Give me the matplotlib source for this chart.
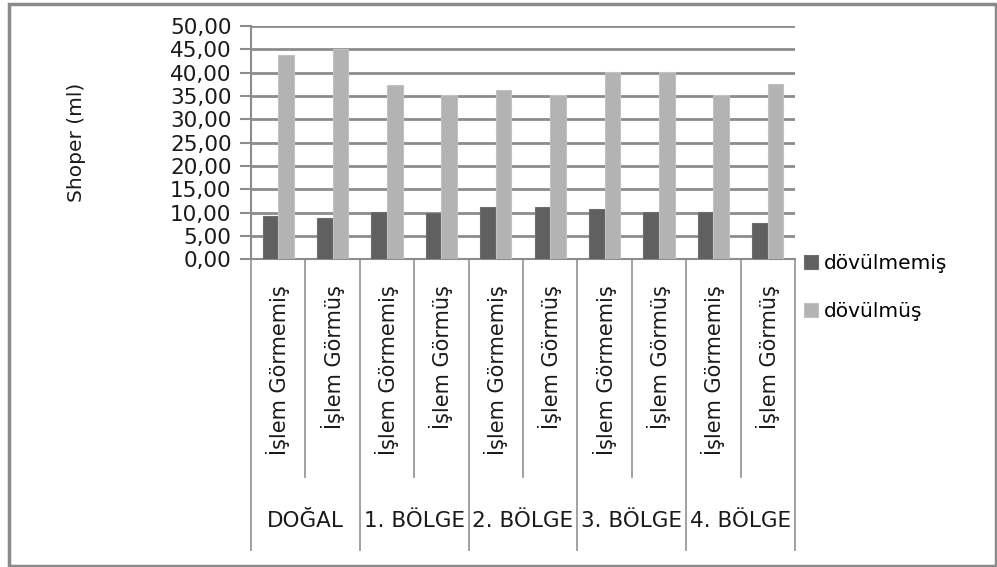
import numpy as np
import matplotlib.pyplot as plt
import matplotlib.transforms as mtransforms
from matplotlib.patches import Rectangle

# Veriler
bolgeler = ["DOĞAL", "1. BÖLGE", "2. BÖLGE", "3. BÖLGE", "4. BÖLGE"]
islemler = ["İşlem Görmemiş", "İşlem Görmüş"]
dovulmemis = [9.3, 8.9, 10.2, 9.85, 11.3, 11.3, 10.85, 10.2, 10.2, 7.85]
dovulmus = [43.8, 45.0, 37.4, 35.3, 36.3, 35.3, 40.1, 40.1, 35.3, 37.6]
y_ticks = np.arange(0, 50.01, 5)

plt.rcParams['font.family'] = ['DejaVu Sans']

fig = plt.figure(figsize=(9.97, 5.67), dpi=100)
W, H = 997, 567

# Grafik alanı (piksel -> oran)
x0, x1 = 251, 795
y_top, y_bot = 26, 259.3
ax = fig.add_axes([x0 / W, 1 - y_bot / H, (x1 - x0) / W, (y_bot - y_top) / H])

n = len(dovulmemis)
x = np.arange(n)
w = 1 / 3.5
ax.bar(x - w / 2, dovulmemis, width=w, color="#606060", edgecolor="#6e6e6e",
       linewidth=0.8, label="dövülmemiş", zorder=3)
ax.bar(x + w / 2, dovulmus, width=w, color="#b3b3b3", edgecolor="#c2c2c2",
       linewidth=0.8, label="dövülmüş", zorder=3)

ax.set_xlim(-0.5, n - 0.5)
ax.set_ylim(0, 50)
ax.set_yticks(y_ticks)
ax.set_yticklabels([f"{v:.2f}".replace(".", ",") for v in y_ticks], fontsize=15.5,
                   color="#1a1a1a")
ax.tick_params(axis="y", length=8, width=1.5, color="#8c8c8c", pad=6)
ax.set_xticks([])
ax.yaxis.grid(True, color="#8c8c8c", linewidth=2)
ax.set_axisbelow(True)
for s in ["top", "right"]:
    ax.spines[s].set_visible(False)
for s in ["left", "bottom"]:
    ax.spines[s].set_color("#8c8c8c")
    ax.spines[s].set_linewidth(1.5)

ax.set_ylabel("Shoper (ml)", fontsize=14.5, color="#1a1a1a", va="center")
ax.yaxis.set_label_coords((77 - x0) / (x1 - x0), 0.5)

# Çok seviyeli kategori ekseni
trans = mtransforms.blended_transform_factory(ax.transData, ax.transAxes)
px = y_bot - y_top
kisa = -(477 - y_bot) / px
uzun = -(550 - y_bot) / px
for b in range(n + 1):
    alt = uzun if b % 2 == 0 else kisa
    ax.plot([b - 0.5, b - 0.5], [0, alt], transform=trans, color="#9a9a9a",
            linewidth=1.3, clip_on=False)

for i in range(n):
    ax.text(i, -(285 - y_bot) / px, islemler[i % 2], transform=trans, rotation=90,
            ha="center", va="top", fontsize=15, color="#1a1a1a")

for g, ad in enumerate(bolgeler):
    ax.text(2 * g + 0.5, -(521 - y_bot) / px, ad, transform=trans, ha="center",
            va="center", fontsize=15.5, color="#1a1a1a")

# Lejant
fig.legend(loc="upper left", bbox_to_anchor=(796 / W, 1 - 246 / H), frameon=False,
           fontsize=14.5, handlelength=0.7, handleheight=0.7, handletextpad=0.3,
           labelspacing=1.45, borderaxespad=0)

# Dış çerçeve
fig.patches.append(Rectangle((9 / W, 1 / H), (987 / W), (562 / H), fill=False,
                             edgecolor="#8a8a8a", linewidth=2.5,
                             transform=fig.transFigure, figure=fig))

fig.savefig("out.png", dpi=100)
